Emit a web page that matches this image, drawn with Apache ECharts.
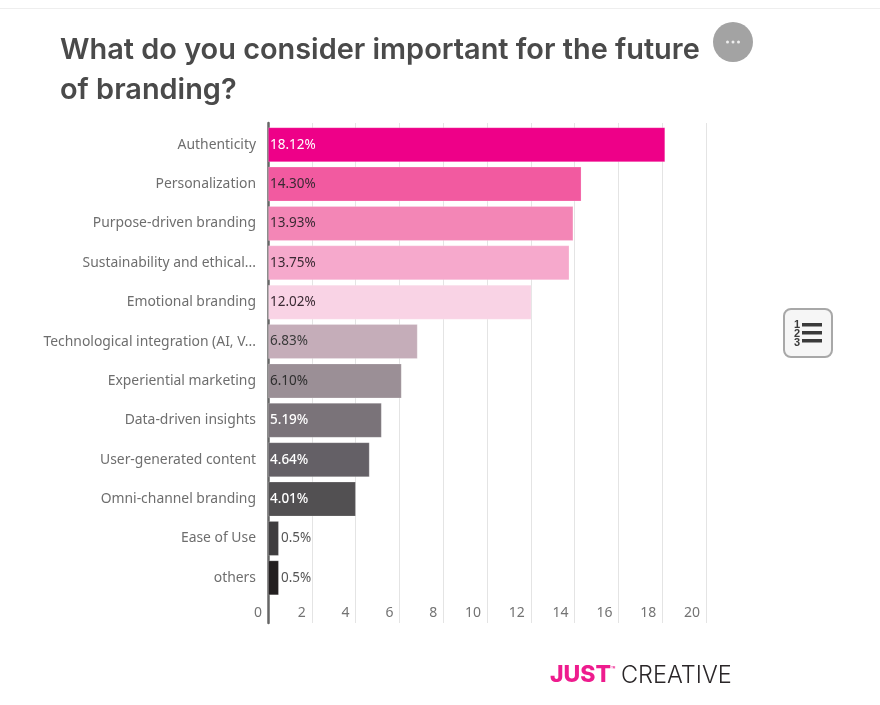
<!DOCTYPE html>
<html>
<head>
<meta charset="utf-8">
<title>Future of branding</title>
<script src="https://cdn.jsdelivr.net/npm/echarts@6/dist/echarts.min.js"></script>
<style>
	html, body { margin: 0; padding: 0; background: #fff; }
	#chart { width: 880px; height: 705px; }
</style>
</head>
<body>
<div id="chart"></div>
<script>
//categories, as printed (long names are cut in the picture)
var categories = ['Authenticity', 'Personalization', 'Purpose-driven branding', 'Sustainability and ethical...', 'Emotional branding', 'Technological integration (AI, V...', 'Experiential marketing', 'Data-driven insights', 'User-generated content', 'Omni-channel branding', 'Ease of Use', 'others'];
//share of answers
var shareValues = [18.12, 14.30, 13.93, 13.75, 12.02, 6.83, 6.10, 5.19, 4.64, 4.01, 0.5, 0.5];
//value labels on the bars
var shareLabels = ['18.12%', '14.30%', '13.93%', '13.75%', '12.02%', '6.83%', '6.10%', '5.19%', '4.64%', '4.01%', '0.5%', '0.5%'];
//x axis ticks
var tickValues = [0, 2, 4, 6, 8, 10, 12, 14, 16, 18, 20];

var barColors = ['#ee0088', '#f25aa0', '#f386b6', '#f6a9cc', '#f9d3e5', '#c5adb9', '#9b8f96', '#7a7379', '#646066', '#525052', '#3f3d3f', '#231f20'];
var labelColors = ['#ffffff', '#3a2a33', '#3a2a33', '#3a2a33', '#3a2a33', '#3a3a3a', '#2e2e2e', '#ffffff', '#ffffff', '#ffffff', '#555555', '#555555'];
var textFont = 'Noto Sans';

var chart = echarts.init(document.getElementById('chart'));

var barData = shareValues.map(function(value, i) {
	var outside = value < 1;
	return {
		value: value,
		itemStyle: { color: barColors[i] },
		label: {
			position: outside ? 'right' : 'insideLeft',
			distance: 2,
			color: labelColors[i],
			fontWeight: i >= 7 && i <= 9 ? 500 : 400
		}
	};
});

var option = {
	animation: false,
	backgroundColor: '#ffffff',
	title: {
		text: 'What do you consider important for the future\nof branding?',
		left: 55,
		top: 25,
		textStyle: {
			fontFamily: 'Inter',
			fontSize: 28.9,
			fontWeight: 600,
			lineHeight: 40,
			color: '#4a4a4a'
		}
	},
	//grid 0 holds the bars, grid 1 the taller frame with gridlines and ticks
	grid: [
		{ left: 268, top: 125, width: 438.5, height: 472.5 },
		{ left: 268, top: 123, width: 438, height: 500 }
	],
	xAxis: [{
		gridIndex: 0,
		type: 'value',
		min: 0,
		max: 20,
		show: false
	}, {
		gridIndex: 1,
		type: 'value',
		min: 0,
		max: 20,
		interval: 2,
		axisLine: { show: false },
		axisTick: { show: false },
		splitLine: { show: true, lineStyle: { color: '#e4e4e4', width: 1 } },
		axisLabel: {
			inside: true,
			margin: 3,
			align: 'right',
			padding: [0, 6, 0, 0],
			color: '#737373',
			fontFamily: textFont,
			fontSize: 14,
			customValues: tickValues
		}
	}],
	yAxis: [{
		gridIndex: 0,
		type: 'category',
		inverse: true,
		data: categories,
		axisLine: { show: false },
		axisTick: { show: false },
		axisLabel: {
			margin: 12,
			color: '#6e6e6e',
			fontFamily: textFont,
			fontSize: 13.9
		}
	}, {
		gridIndex: 1,
		type: 'value',
		min: 0,
		max: 1,
		offset: 1.5,
		axisLine: { show: true, lineStyle: { color: '#666666', width: 2.5 } },
		axisTick: { show: false },
		axisLabel: { show: false },
		splitLine: { show: false }
	}],
	series: [{
		type: 'bar',
		xAxisIndex: 0,
		yAxisIndex: 0,
		barWidth: 35,
		data: barData,
		itemStyle: { borderColor: 'rgba(255,255,255,0.2)', borderWidth: 1 },
		label: {
			show: true,
			fontFamily: textFont,
			fontSize: 13.5,
			formatter: function(params) {
				return shareLabels[params.dataIndex];
			}
		}
	}],
	graphic: [
		//hairline at the top of the page
		{ type: 'rect', shape: { x: 0, y: 8, width: 880, height: 1 }, style: { fill: '#eeeeee' }, silent: true },
		//menu button
		{ type: 'circle', shape: { cx: 733, cy: 42, r: 20 }, style: { fill: '#a3a3a3' }, silent: true },
		{ type: 'circle', shape: { cx: 727.5, cy: 42, r: 1.5 }, style: { fill: '#eeeeee' }, silent: true },
		{ type: 'circle', shape: { cx: 733, cy: 42, r: 1.5 }, style: { fill: '#eeeeee' }, silent: true },
		{ type: 'circle', shape: { cx: 738.5, cy: 42, r: 1.5 }, style: { fill: '#eeeeee' }, silent: true },
		//ranking button
		{ type: 'rect', shape: { x: 784, y: 309, width: 48, height: 48, r: 7 }, style: { fill: '#f6f6f6', stroke: '#a8a8a8', lineWidth: 2 }, silent: true },
		{ type: 'text', x: 797, y: 319, style: { text: '1', fontFamily: 'Liberation Sans', fontSize: 11, fontWeight: 700, fill: '#3a3a3a', align: 'center' }, silent: true },
		{ type: 'text', x: 797, y: 328, style: { text: '2', fontFamily: 'Liberation Sans', fontSize: 11, fontWeight: 700, fill: '#3a3a3a', align: 'center' }, silent: true },
		{ type: 'text', x: 797, y: 337, style: { text: '3', fontFamily: 'Liberation Sans', fontSize: 11, fontWeight: 700, fill: '#3a3a3a', align: 'center' }, silent: true },
		{ type: 'rect', shape: { x: 802, y: 323, width: 20, height: 3.5 }, style: { fill: '#3a3a3a' }, silent: true },
		{ type: 'rect', shape: { x: 802, y: 331, width: 20, height: 3.5 }, style: { fill: '#3a3a3a' }, silent: true },
		{ type: 'rect', shape: { x: 802, y: 339, width: 20, height: 3.5 }, style: { fill: '#3a3a3a' }, silent: true },
		//logo
		{ type: 'text', x: 550, y: 664, style: { text: 'JUST', fontFamily: 'Inter', fontSize: 23, fontWeight: 800, fill: '#ee1c8e' }, silent: true },
		{ type: 'text', x: 611, y: 666, style: { text: '™', fontFamily: 'Inter', fontSize: 7, fontWeight: 600, fill: '#ee1c8e' }, silent: true },
		{ type: 'text', x: 621, y: 664, style: { text: 'CREATIVE', fontFamily: 'Inter', fontSize: 23.5, fontWeight: 300, fill: '#2a2628' }, silent: true }
	]
};

chart.setOption(option);
</script>
</body>
</html>
